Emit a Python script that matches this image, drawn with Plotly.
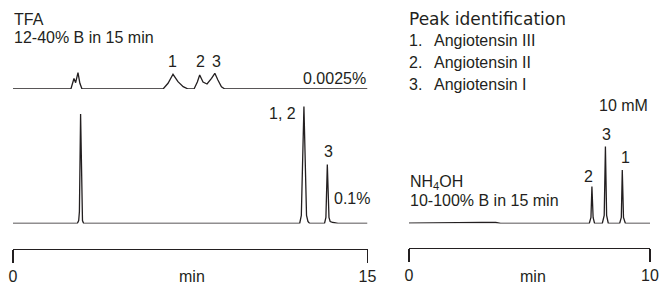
import plotly.graph_objects as go

# ---------------- data ----------------
# TFA 0.0025% trace (time in min, relative signal)
tfa_low_t = [0, 2.45, 2.58, 2.65, 2.75, 2.83, 2.92,
             6.35, 6.56, 6.77, 6.98, 7.20, 7.41,
             7.66, 7.80, 7.90, 8.04, 8.21, 8.40, 8.54, 8.67, 8.82, 8.96, 15]
tfa_low_y = [0, 0, 10.5, 6.3, 16.3, 5.7, 0,
             0, 5.7, 14.7, 7.3, 2.3, 0,
             0, 7, 14, 7, 5, 10.7, 15.7, 9, 2.3, 0, 0]

# TFA 0.1% trace
tfa_high_t = [0, 2.72, 2.78, 2.81, 2.86, 2.91, 2.94, 2.99,
              12.13, 12.20, 12.31, 12.42, 12.48, 12.55,
              13.18, 13.24, 13.30, 13.37, 13.42, 13.55, 13.75, 15]
tfa_high_y = [0, 0, 3, 12, 109.5, 12, 3, 0,
              0, 8, 117, 8, 2, 0,
              0, 6, 59, 6, 2, 1, 0, 0]

# NH4OH 10 mM trace (0-10 min)
nh4_t = [0, 1.0, 2.0, 3.0, 3.6, 3.8,
         7.48, 7.55, 7.59, 7.64, 7.70,
         8.02, 8.10, 8.15, 8.20, 8.27,
         8.74, 8.81, 8.85, 8.90, 8.98, 10]
nh4_y = [0.3, 0.8, 1.0, 1.2, 1.0, 0,
         0, 6, 37, 6, 0,
         0, 8, 77, 8, 0,
         0, 6, 53.5, 6, 0, 0]

left_ticks = [0, 15]
right_ticks = [0, 10]
peak_numbers = ["1.", "2.", "3."]
peak_names = ["Angiotensin III", "Angiotensin II", "Angiotensin I"]

# ---------------- figure ----------------
W, H = 660, 284
INK = "#231f20"
FONT = "Liberation Sans, Arial, sans-serif"
TITLE_FONT = "DejaVu Sans, Liberation Sans, sans-serif"


def px(x):
    return x / W


def py(y):
    return 1 - y / H


line = dict(color=INK, width=1.3)
fig = go.Figure()
fig.add_trace(go.Scatter(x=tfa_low_t, y=tfa_low_y, mode="lines", line=line,
                         xaxis="x", yaxis="y2", hoverinfo="skip"))
fig.add_trace(go.Scatter(x=tfa_high_t, y=tfa_high_y, mode="lines", line=line,
                         xaxis="x", yaxis="y", hoverinfo="skip"))
fig.add_trace(go.Scatter(x=nh4_t, y=nh4_y, mode="lines", line=line,
                         xaxis="x2", yaxis="y3", hoverinfo="skip"))

axis_common = dict(showline=True, linecolor=INK, linewidth=1.2, ticks="outside",
                   ticklen=13, tickwidth=1.2, tickcolor=INK, showgrid=False,
                   zeroline=False, tickfont=dict(family=FONT, size=16, color=INK),
                   fixedrange=True, automargin=False)
hidden_y = dict(visible=False, anchor="free", position=0, fixedrange=True,
                automargin=False)

fig.update_layout(
    width=W, height=H, margin=dict(l=0, r=0, t=0, b=0, pad=0, autoexpand=False),
    paper_bgcolor="white", plot_bgcolor="white", showlegend=False,
    xaxis=dict(domain=[px(13), px(367.5)], range=[0, 15], anchor="free",
               position=py(249), tickvals=left_ticks, **axis_common),
    xaxis2=dict(domain=[px(409), px(650)], range=[0, 10], anchor="free",
                position=py(248), tickvals=right_ticks, **axis_common),
    yaxis=dict(domain=[py(223.5), py(100)], range=[0, 123.5], **hidden_y),
    yaxis2=dict(domain=[py(89), py(60)], range=[0, 29], **hidden_y),
    yaxis3=dict(domain=[py(223.5), py(140)], range=[0, 83.5], **hidden_y),
)


def note(text, x, y, xanchor="center", size=16, family=FONT):
    fig.add_annotation(text=text, x=px(x), y=py(y), xref="paper", yref="paper",
                       xanchor=xanchor, yanchor="middle", showarrow=False,
                       font=dict(family=family, size=size, color=INK))


note("TFA", 12, 19, "left")
note("12-40% B in 15 min", 12, 37.5, "left")
note("1", 172, 61)
note("2", 200, 61)
note("3", 216, 61)
note("0.0025%", 368, 78, "right")
note("1, 2", 298, 113.5, "right")
note("3", 328, 151.5)
note("0.1%", 332, 198, "left")
note("min", 192, 276)

note("Peak identification", 407, 19.5, "left", 17, TITLE_FONT)
for i, (n, name) in enumerate(zip(peak_numbers, peak_names)):
    yy = 40.5 + 22 * i
    note(n, 407, yy, "left")
    note(name, 432, yy, "left")
note("10 mM", 623.5, 106)
note("3", 606, 134)
note("2", 588, 177)
note("1", 625, 157)
note("NH<sub>4</sub>OH", 408, 182, "left")
note("10-100% B in 15 min", 408, 201, "left")
note("min", 533, 276)

fig.write_html(
    "out.html",
    config={"displayModeBar": False, "staticPlot": True},
    post_script="document.body.style.margin='0';document.body.style.overflow='hidden';",
)
